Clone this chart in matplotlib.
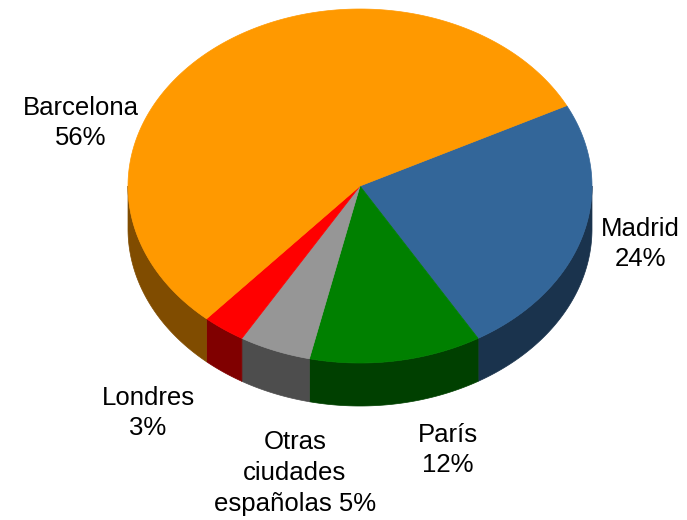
"""3D-style pie chart of visitor origin by city."""

import matplotlib

matplotlib.use("Agg")

import numpy as np
import matplotlib.pyplot as plt
from matplotlib.patches import Polygon

# data, clockwise from the upper right
labels = ["Madrid", "París", "Otras\nciudades\nespañolas", "Londres", "Barcelona"]
shares = [24, 12, 5, 3, 56]
top_colors = ["#336699", "#008000", "#969696", "#FF0000", "#FF9900"]
side_colors = ["#1A334D", "#004000", "#4D4D4D", "#800000", "#804C00"]

# label placement in pixels (x, y) and how the percent joins the label
label_pos = [(640, 244), (448, 450), (295, 473), (148, 413), (81, 123)]
label_join = ["\n", "\n", " ", "\n", "\n"]

# ellipse geometry in pixels
cx, cy = 360, 186
rx, ry = 232, 177
depth = 43
start_angle = 27.0

fig = plt.figure(figsize=(6.87, 5.2), dpi=100)
ax = fig.add_axes([0, 0, 1, 1])
ax.set_xlim(0, 687)
ax.set_ylim(520, 0)
ax.axis("off")


def arc(t0, t1, dy=0.0, n=200):
    t = np.radians(np.linspace(t0, t1, n))
    return np.column_stack([cx + rx * np.cos(t), cy - ry * np.sin(t) + dy])


total = float(sum(shares))
angle = start_angle
spans = []
for share in shares:
    sweep = 360.0 * share / total
    spans.append((angle - sweep, angle))
    angle -= sweep

# side walls: only the front half (angles between -180 and 0) is visible
for (a0, a1), color in zip(spans, side_colors):
    for shift in (0, -360, 360):
        lo = max(a0 + shift, -180)
        hi = min(a1 + shift, 0)
        if hi > lo:
            top = arc(lo, hi)
            bottom = arc(hi, lo, dy=depth)
            ax.add_patch(Polygon(np.vstack([top, bottom]), closed=True,
                                 facecolor=color, edgecolor=color, lw=0.5,
                                 zorder=1))

# top face
for (a0, a1), color in zip(spans, top_colors):
    pts = np.vstack([[cx, cy], arc(a0, a1)])
    ax.add_patch(Polygon(pts, closed=True, facecolor=color,
                         edgecolor=color, lw=0.5, zorder=2))

for label, share, (x, y), join in zip(labels, shares, label_pos, label_join):
    ax.text(x, y, f"{label}{join}{share}%", ha="center", va="center",
            fontsize=18.5, family="Liberation Sans", linespacing=1.35,
            color="black", zorder=3)

fig.savefig("out.png", dpi=100)
